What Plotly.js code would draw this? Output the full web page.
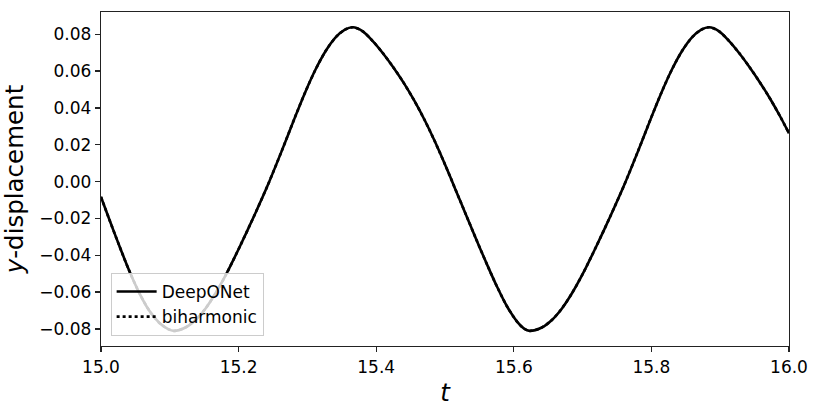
<!DOCTYPE html>
<html>
<head>
<meta charset="utf-8">
<script src="https://cdn.plot.ly/plotly-3.0.1.min.js"></script>
<style>html,body{margin:0;padding:0;background:#fff;}#plot{width:814px;height:407px;}</style>
</head>
<body>
<div id="plot"></div>
<script>
// time values (t)
const tValues = [15.000, 15.012, 15.025, 15.040, 15.055, 15.070, 15.085, 15.097, 15.106,
  15.122, 15.137, 15.152, 15.167, 15.182, 15.202, 15.222, 15.242, 15.262, 15.282, 15.297, 15.312, 15.327, 15.342, 15.354, 15.366,
  15.380, 15.395, 15.410, 15.425, 15.440, 15.455, 15.470, 15.485, 15.500, 15.515, 15.530, 15.545, 15.560, 15.575, 15.590, 15.605, 15.615, 15.623,
  15.640, 15.655, 15.670, 15.685, 15.700, 15.720, 15.740, 15.760, 15.780, 15.800, 15.815, 15.830, 15.845, 15.860, 15.872, 15.884,
  15.898, 15.913, 15.928, 15.943, 15.958, 15.973, 15.988, 16.000];
// DeepONet prediction (y-displacement)
const deeponetY = [-0.0083, -0.0205, -0.0333, -0.0475, -0.0600, -0.0700, -0.0768, -0.0800, -0.0811,
  -0.0794, -0.0753, -0.0689, -0.0604, -0.0503, -0.0351, -0.0191, -0.0023, 0.0160, 0.0350, 0.0487, 0.0610, 0.0712, 0.0787, 0.0824, 0.0838,
  0.0817, 0.0763, 0.0696, 0.0620, 0.0536, 0.0442, 0.0337, 0.0220, 0.0093, -0.0041, -0.0176, -0.0310, -0.0441, -0.0566, -0.0677, -0.0762, -0.0799, -0.0811,
  -0.0794, -0.0753, -0.0689, -0.0604, -0.0503, -0.0351, -0.0191, -0.0023, 0.0160, 0.0350, 0.0487, 0.0610, 0.0712, 0.0787, 0.0824, 0.0838,
  0.0817, 0.0763, 0.0696, 0.0620, 0.0537, 0.0447, 0.0348, 0.0262];
// biharmonic reference (overlaps DeepONet)
const biharmonicY = [-0.0083, -0.0205, -0.0333, -0.0475, -0.0600, -0.0700, -0.0768, -0.0800, -0.0811,
  -0.0794, -0.0753, -0.0689, -0.0604, -0.0503, -0.0351, -0.0191, -0.0023, 0.0160, 0.0350, 0.0487, 0.0610, 0.0712, 0.0787, 0.0824, 0.0838,
  0.0817, 0.0763, 0.0696, 0.0620, 0.0536, 0.0442, 0.0337, 0.0220, 0.0093, -0.0041, -0.0176, -0.0310, -0.0441, -0.0566, -0.0677, -0.0762, -0.0799, -0.0811,
  -0.0794, -0.0753, -0.0689, -0.0604, -0.0503, -0.0351, -0.0191, -0.0023, 0.0160, 0.0350, 0.0487, 0.0610, 0.0712, 0.0787, 0.0824, 0.0838,
  0.0817, 0.0763, 0.0696, 0.0620, 0.0537, 0.0447, 0.0348, 0.0262];
const seriesNames = ["DeepONet", "biharmonic"];

const font = "DejaVu Sans, Liberation Sans, sans-serif";
const traces = [
  {x: tValues, y: deeponetY, name: seriesNames[0], type: "scatter", mode: "lines",
   line: {color: "#000", width: 2.6, shape: "spline", smoothing: 0.8}},
  {x: tValues, y: biharmonicY, name: seriesNames[1], type: "scatter", mode: "lines",
   line: {color: "#000", width: 2.6, dash: "dot", shape: "spline", smoothing: 0.8}}
];
const axisCommon = {
  showgrid: false, zeroline: false, showline: true, mirror: true,
  linecolor: "#222", linewidth: 1.3, ticks: "outside", ticklen: 5, tickwidth: 1.3, tickcolor: "#222",
  tickfont: {family: font, size: 17, color: "#000"}
};
const layout = {
  width: 814, height: 407,
  margin: {l: 101, r: 25, t: 12, b: 61},
  paper_bgcolor: "#fff", plot_bgcolor: "#fff",
  showlegend: true,
  legend: {x: 0.014, y: 0.03, xanchor: "left", yanchor: "bottom",
    bgcolor: "rgba(255,255,255,0.8)", bordercolor: "#cccccc", borderwidth: 1,
    font: {family: font, size: 17, color: "#000"}, tracegroupgap: 0, itemwidth: 40},
  xaxis: Object.assign({}, axisCommon, {range: [15.0, 16.0], dtick: 0.2, tick0: 15.0, tickformat: ".1f",
    title: {text: "<i>t</i>", font: {family: font, size: 24.5, color: "#000"}, standoff: 8}}),
  yaxis: Object.assign({}, axisCommon, {range: [-0.0893, 0.0921], dtick: 0.02, tick0: 0, tickformat: ".2f",
    title: {text: "<i>y</i>-displacement", font: {family: font, size: 24.5, color: "#000"}, standoff: 13}})
};
Plotly.newPlot("plot", traces, layout, {staticPlot: true});
</script>
</body>
</html>
